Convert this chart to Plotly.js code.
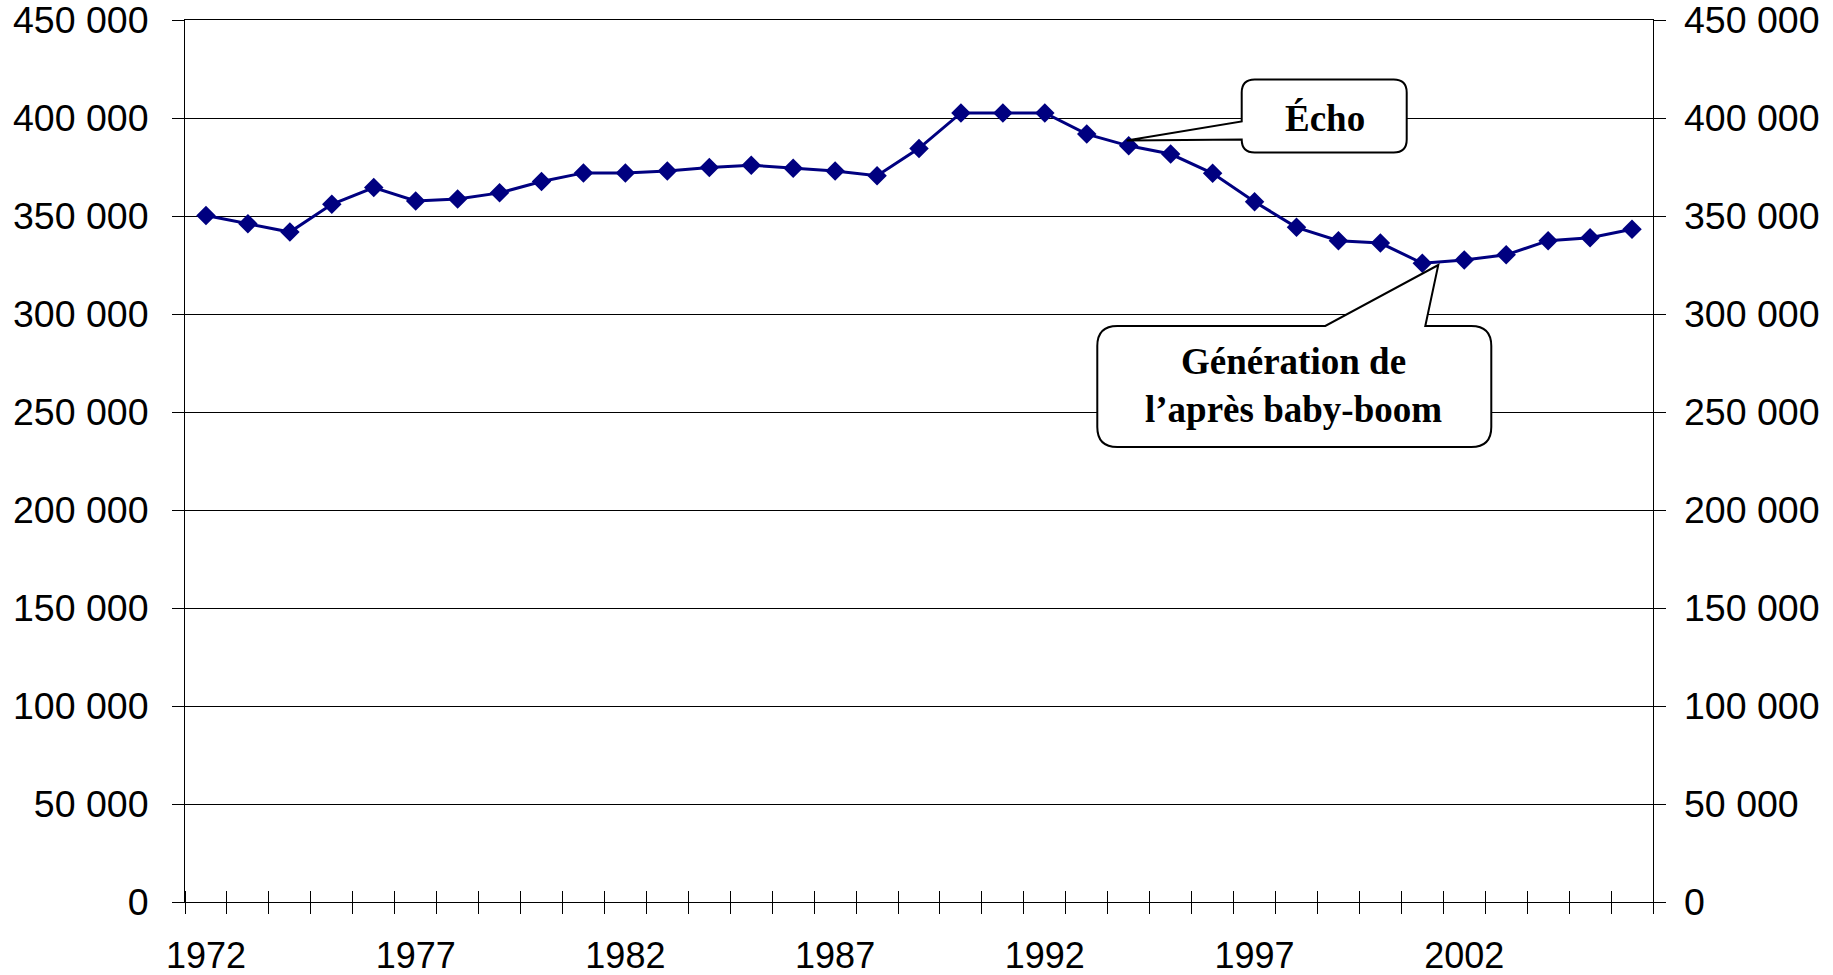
<!DOCTYPE html>
<html>
<head>
<meta charset="utf-8">
<script src="https://cdn.plot.ly/plotly-3.0.1.min.js"></script>
<style>
  html, body { margin: 0; padding: 0; background: #fff; }
  #chart { width: 1833px; height: 975px; }
</style>
</head>
<body>
<div id="chart"></div>
<script>
const years = [1972, 1973, 1974, 1975, 1976, 1977, 1978, 1979, 1980, 1981,
               1982, 1983, 1984, 1985, 1986, 1987, 1988, 1989, 1990, 1991,
               1992, 1993, 1994, 1995, 1996, 1997, 1998, 1999, 2000, 2001,
               2002, 2003, 2004, 2005, 2006]
const births = [350300, 346100, 341800, 356000, 364500, 357700, 358700, 361800, 367600, 372000,
                372000, 373000, 374700, 375900, 374400, 373000, 370500, 384500, 402600, 402600,
                402600, 391800, 385800, 381600, 371800, 357300, 344200, 337400, 336200, 325900,
                327600, 330200, 337400, 338900, 343200]
const label_years = [1972, 1977, 1982, 1987, 1992, 1997, 2002]
const y_ticks = [0, 50000, 100000, 150000, 200000, 250000, 300000, 350000, 400000, 450000]

const echo_text = '<b>Écho</b>'
const echo_at = [1994, 386000]
const post_text = '<b>Génération de<br>l’après baby-boom</b>'
const post_at = [2001.5, 325000]

const ink = 'black'
const navy = '#000080'
const x_font = { family: 'Liberation Sans, Arial, sans-serif', size: 36, color: ink }
const y_font = { family: 'Liberation Sans, Arial, sans-serif', size: 37.5, color: ink }
const note_font = { family: 'Liberation Serif, Times New Roman, serif', size: 37, color: ink }

// rounded box with a wedge pointing to the anchor, pixels relative to anchor (y down)
function callout_path(x0, y0, x1, y1, r, wedge) {
    const p = (x, y) => x.toFixed(1) + ',' + (-y).toFixed(1)
    let d = 'M' + p(x0 + r, y0)
    if (wedge.side == 'top')
        d += ' L' + p(wedge.a, y0) + ' L' + p(wedge.tip[0], wedge.tip[1]) + ' L' + p(wedge.b, y0)
    d += ' L' + p(x1 - r, y0) + ' Q' + p(x1, y0) + ' ' + p(x1, y0 + r)
    d += ' L' + p(x1, y1 - r) + ' Q' + p(x1, y1) + ' ' + p(x1 - r, y1)
    d += ' L' + p(x0 + r, y1) + ' Q' + p(x0, y1) + ' ' + p(x0, y1 - r)
    if (wedge.side == 'left')
        d += ' L' + p(x0, wedge.b) + ' L' + p(wedge.tip[0], wedge.tip[1]) + ' L' + p(x0, wedge.a)
    d += ' L' + p(x0, y0 + r) + ' Q' + p(x0, y0) + ' ' + p(x0 + r, y0) + ' Z'
    return d
}

function callout_shape(at, path) {
    return {
        type: 'path', xref: 'x', yref: 'y',
        xsizemode: 'pixel', ysizemode: 'pixel',
        xanchor: at[0], yanchor: at[1],
        path: path,
        line: { color: ink, width: 2 },
        fillcolor: 'white',
        layer: 'above'
    }
}

const trace = {
    x: years,
    y: births,
    type: 'scatter',
    mode: 'lines+markers',
    line: { color: navy, width: 3 },
    marker: { symbol: 'diamond', size: 15, color: navy },
    hoverinfo: 'x+y',
    showlegend: false
}

// second pair of axes only for the inner half of the crossing ticks and the right labels
const helper = {
    x: years, y: births, xaxis: 'x2', yaxis: 'y2',
    type: 'scatter', mode: 'none', hoverinfo: 'skip', showlegend: false
}

const x_range = [1971.5, 2006.5]
const y_range = [0, 450000]

const layout = {
    width: 1833,
    height: 975,
    margin: { l: 185, r: 180, t: 20, b: 73 },
    paper_bgcolor: 'white',
    plot_bgcolor: 'white',
    separators: ', ',
    font: x_font,
    xaxis: {
        range: x_range, fixedrange: true,
        tickmode: 'array', tickvals: label_years,
        ticks: '', ticklabelstandoff: 22, ticklabeloverflow: 'allow',
        minor: { tick0: 1971.5, dtick: 1, ticks: 'outside', ticklen: 11, tickwidth: 1, tickcolor: ink, showgrid: false },
        showgrid: false, zeroline: false,
        showline: true, linecolor: ink, linewidth: 1, mirror: true,
        tickfont: x_font, automargin: false
    },
    xaxis2: {
        overlaying: 'x', anchor: 'y', range: x_range, fixedrange: true,
        showticklabels: false, ticks: '',
        minor: { tick0: 1971.5, dtick: 1, ticks: 'inside', ticklen: 11, tickwidth: 1, tickcolor: ink, showgrid: false },
        showgrid: false, zeroline: false, showline: false, automargin: false
    },
    yaxis: {
        range: y_range, tickmode: 'array', tickvals: y_ticks, tickformat: ',d', fixedrange: true,
        ticks: 'outside', ticklen: 12, tickwidth: 1, tickcolor: ink,
        ticklabelstandoff: 16, ticklabeloverflow: 'allow',
        showgrid: true, gridcolor: ink, gridwidth: 1,
        zeroline: false,
        showline: true, linecolor: ink, linewidth: 1, mirror: 'ticks',
        tickfont: y_font, automargin: false
    },
    yaxis2: {
        overlaying: 'y', anchor: 'x', side: 'right',
        range: y_range, tickmode: 'array', tickvals: y_ticks, tickformat: ',d', fixedrange: true,
        ticks: 'inside', ticklen: 12, tickwidth: 1, tickcolor: ink,
        ticklabelstandoff: 30, ticklabeloverflow: 'allow',
        showgrid: false, zeroline: false,
        showline: false, mirror: 'ticks',
        tickfont: y_font, automargin: false
    },
    shapes: [
        callout_shape(echo_at, callout_path(113, -66, 278, 7, 13,
            { side: 'left', a: -24, b: -6, tip: [-2, -5] })),
        callout_shape(post_at, callout_path(-346, 61, 48, 182, 20,
            { side: 'top', a: -118, b: -18, tip: [-5, 0] }))
    ],
    annotations: [
        { x: 1998.68, y: 400000, xref: 'x', yref: 'y', text: echo_text, showarrow: false, font: note_font },
        { x: 1997.94, y: 263300, xref: 'x', yref: 'y', text: post_text, showarrow: false, font: note_font }
    ]
}

Plotly.newPlot('chart', [trace, helper], layout, { displayModeBar: false, staticPlot: true })
</script>
</body>
</html>
